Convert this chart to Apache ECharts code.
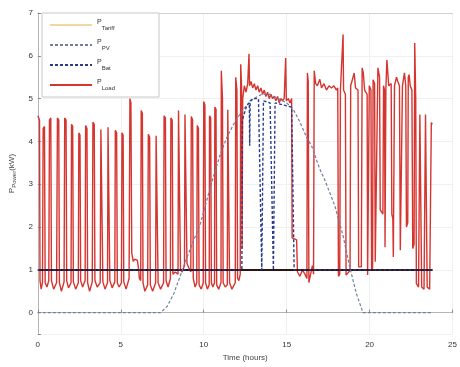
<!DOCTYPE html>
<html>
<head>
<meta charset="utf-8">
<script src="https://cdn.jsdelivr.net/npm/echarts@6/dist/echarts.min.js"></script>
<style>html,body{margin:0;padding:0;background:#fff}#c{width:460px;height:367px}</style>
</head>
<body>
<div id="c"></div>
<script>
// ---- data (hours, kW) ----
const xTicks = [0, 5, 10, 15, 20, 25];
const yTicks = [0, 1, 2, 3, 4, 5, 6, 7];
const seriesNames = ['P_Tariff', 'P_PV', 'P_Bat', 'P_Load'];

const loadNight = [
[0,4.6],[0.1,4.5],[0.13,0.75],[0.2,0.55],[0.28,0.7],
[0.32,4.3],[0.4,4.35],[0.44,0.7],[0.55,0.6],[0.66,0.75],
[0.7,4.5],[0.78,4.55],[0.82,0.75],[0.95,0.55],[1.13,0.7],
[1.18,4.55],[1.26,4.5],[1.3,0.7],[1.42,0.5],[1.58,0.72],
[1.62,4.55],[1.7,4.5],[1.74,0.75],[1.85,0.58],[2.0,0.7],
[2.03,4.4],[2.1,4.35],[2.14,0.72],[2.28,0.55],[2.44,0.7],
[2.47,4.2],[2.54,4.15],[2.58,0.75],[2.7,0.6],[2.85,0.75],
[2.88,4.37],[2.96,4.3],[3.0,0.7],[3.12,0.5],[3.28,0.72],
[3.32,4.45],[3.4,4.4],[3.44,0.75],[3.58,0.6],[3.76,0.7],
[3.8,4.28],[3.88,4.25],[3.92,0.72],[4.05,0.55],[4.2,0.7],
[4.23,4.33],[4.3,4.3],[4.34,0.75],[4.48,0.58],[4.64,0.72],
[4.67,4.26],[4.75,4.2],[4.79,0.7],[4.9,0.6],[5.04,0.7],
[5.07,4.2],[5.14,4.15],[5.18,0.72],[5.32,0.55],[5.5,0.8],
[5.55,5.0],[5.61,4.9],[5.66,1.4],[5.75,1.2],[5.85,1.25],[6.0,1.22],[6.08,1.0],[6.12,0.8],[6.2,0.75]
];
const loadMorning = [
[6.23,4.72],[6.3,4.65],[6.34,0.7],[6.45,0.5],[6.62,0.65],
[6.66,4.17],[6.74,4.1],[6.78,0.65],[6.92,0.5],[7.1,0.7],
[7.13,4.13],[7.21,4.1],[7.25,0.7],[7.4,0.55],[7.58,0.7],
[7.61,4.6],[7.69,4.55],[7.73,0.75],[7.85,0.6],[7.99,0.8],
[8.02,4.55],[8.1,4.5],[8.14,0.9],[8.28,0.95],[8.45,0.9],
[8.48,4.72],[8.56,4.68],[8.6,1.0],[8.7,0.95],[8.84,1.1],
[8.87,4.63],[8.95,4.6],[8.99,1.15],[9.1,1.05],[9.22,0.95],
[9.25,4.58],[9.33,4.5],[9.37,0.8],[9.48,0.6],[9.58,0.7],
[9.61,4.37],[9.68,4.3],[9.72,0.65],[9.85,0.55],[9.97,0.7],
[10.0,4.93],[10.07,4.85],[10.11,0.7],[10.22,0.55],[10.33,0.65],
[10.35,4.6],[10.42,4.55],[10.46,0.7],[10.55,0.6],[10.65,0.7],
[10.67,4.8],[10.74,4.75],[10.78,0.65],[10.9,0.55],[11.04,0.7],
[11.06,5.65],[11.13,5.0],[11.17,0.7],[11.3,0.6],[11.42,0.65],
[11.45,4.74],[11.52,4.7],[11.56,0.7],[11.7,0.55],[11.9,0.7],
[11.93,5.5],[12.0,5.2],[12.04,0.8],[12.12,0.75],[12.2,0.9],
[12.23,5.8],[12.28,5.3],[12.31,1.5],[12.35,5.0]
];
const loadMidday = [
[12.45,5.3],[12.55,5.15],[12.65,5.35],[12.73,6.05],[12.76,5.3],[12.85,5.4],[12.95,5.25],[13.05,5.35],
[13.15,5.2],[13.25,5.3],[13.35,5.15],[13.45,5.25],[13.55,5.1],[13.65,5.2],[13.75,5.05],[13.85,5.15],
[13.95,5.0],[14.05,5.1],[14.15,5.0],[14.25,5.05],[14.35,4.95],[14.45,5.05],[14.55,4.9],[14.65,5.0],
[14.75,4.95],[14.85,5.0],[14.94,5.95],[14.98,4.95],[15.1,5.0],[15.2,4.9],[15.3,5.0],
[15.33,1.75],[15.6,1.7],[15.65,0.95],[15.8,0.85],[15.95,1.0],[16.1,0.9],[16.22,0.8],
[16.25,5.6],[16.3,5.4],[16.34,0.7],[16.45,0.7],[16.55,1.1],[16.62,0.9],[16.66,5.65],[16.75,5.35],
[16.85,5.3],[17.0,5.45],[17.1,5.25],[17.25,5.35],[17.4,5.2],[17.55,5.3],[17.7,5.25],[17.85,5.3],[18.0,5.2],[18.08,5.25]
];
const loadEvening = [
[18.12,0.85],[18.2,0.9],[18.24,5.2],[18.36,5.2],[18.4,6.5],[18.43,5.2],[18.54,5.1],[18.58,0.88],[18.75,0.95],
[18.82,1.0],[18.86,5.3],[19.07,5.6],[19.15,5.25],[19.3,5.2],[19.34,1.07],[19.5,1.07],[19.55,5.72],[19.62,5.6],
[19.7,5.2],[19.85,5.1],[19.88,0.88],[19.95,0.9],[19.98,5.3],[20.08,5.2],[20.12,1.0],[20.18,1.05],[20.21,5.44],
[20.3,5.35],[20.34,1.19],[20.45,1.19],[20.5,5.72],[20.6,5.5],[20.64,2.4],[20.8,2.3],[20.84,5.3],[20.9,5.2],
[20.93,1.53],[20.98,5.2],[21.04,5.9],[21.1,5.6],[21.15,5.3],[21.3,5.35],[21.34,2.3],[21.4,2.2],[21.43,1.3],
[21.5,5.3],[21.62,5.5],[21.7,5.4],[21.8,5.3],[21.85,1.46],[21.93,1.5],[21.98,5.3],[22.1,5.6],[22.18,5.3],
[22.22,2.0],[22.3,2.1],[22.33,5.5],[22.38,5.56],[22.45,5.3],[22.55,5.2],[22.6,1.5],[22.68,1.6],
[22.72,6.3],[22.78,5.0],[22.82,0.68],[22.95,0.6],[23.03,4.63],[23.1,4.6],[23.14,0.6],[23.28,0.55],
[23.37,4.63],[23.43,4.6],[23.47,0.6],[23.62,0.55],[23.72,4.44],[23.78,4.4]
];
const pvData = [
[0,0],[7.4,0],[7.8,0.15],[8.2,0.45],[8.5,0.77],[8.9,1.2],[9.3,1.6],[9.8,2.08],[10.2,2.65],[10.6,3.2],
[11.0,3.7],[11.4,4.1],[11.8,4.4],[12.2,4.65],[12.6,4.85],[13.0,5.0],[13.5,5.1],[14.0,5.1],[14.5,5.0],
[15.0,4.9],[15.4,4.75],[15.8,4.45],[16.2,4.1],[16.5,3.9],[17.0,3.35],[17.3,3.1],[17.9,2.5],[18.4,1.8],
[18.8,1.07],[19.2,0.45],[19.6,0],[23.8,0]
];
const batData = [
[0,1],[12.3,1],[12.33,4.5],[12.6,4.85],[12.75,4.9],[12.77,3.9],[12.8,4.95],[13.0,5.0],[13.3,5.0],
[13.5,1.0],[13.6,4.95],[14.0,4.9],[14.2,1.0],[14.3,4.9],[14.8,4.85],[15.3,4.8],[15.45,1.0],[23.8,1.0]
];
const limitData = [[0,1],[23.8,1]];
const tariffData = [];

const loadData = loadNight.concat(loadMorning, loadMidday, loadEvening);

const chart = echarts.init(document.getElementById('c'));
const FONT = 'Liberation Sans';
const fmtName = n => { const p = n.split('_'); return '{p|' + p[0] + '}{s|' + p[1] + '}'; };

chart.setOption({
  animation: false,
  backgroundColor: '#fff',
  textStyle: { fontFamily: FONT },
  grid: { left: 33, right: 5, top: 13, bottom: 29 },
  legend: {
    data: seriesNames,
    orient: 'vertical',
    left: 42, top: 13,
    padding: [6, 44, 6, 7],
    itemWidth: 42, itemHeight: 12, itemGap: 8,
    itemStyle: { opacity: 0 },
    backgroundColor: '#fff',
    borderColor: '#c8c8c8', borderWidth: 1,
    formatter: fmtName,
    textStyle: {
      color: '#333', fontFamily: FONT,
      rich: {
        p: { fontSize: 7, color: '#333', verticalAlign: 'top', lineHeight: 12 },
        s: { fontSize: 6, color: '#333', verticalAlign: 'bottom', lineHeight: 12, padding: [6, 0, 0, 0] }
      }
    }
  },
  xAxis: [{
    type: 'value', min: 0, max: 25, interval: 5,
    name: 'Time (hours)', nameLocation: 'middle', nameGap: 19,
    nameTextStyle: { fontSize: 8, color: '#444' },
    axisLine: { lineStyle: { color: '#b5b5b5' } },
    axisTick: { inside: true, length: 3, lineStyle: { color: '#888' } },
    axisLabel: { fontSize: 8, color: '#333', margin: 7, formatter: v => xTicks.includes(v) ? String(v) : '' },
    splitLine: { show: true, lineStyle: { color: '#efefef' } }
  }, {
    type: 'value', min: 0, max: 25, position: 'top',
    axisLine: { show: true, lineStyle: { color: '#d0d0d0' } },
    axisTick: { show: false }, axisLabel: { show: false }, splitLine: { show: false }
  }],
  yAxis: {
    type: 'value', min: -0.5, max: 7, minInterval: 1, maxInterval: 1, splitNumber: 8,
    name: 'P{s|Power}(kW)', nameLocation: 'middle', nameGap: 9,
    nameTextStyle: { fontSize: 8, color: '#444', rich: { s: { fontSize: 6, color: '#444', padding: [5, 0, 0, 0] } } },
    axisLine: { show: true, lineStyle: { color: '#b5b5b5' } },
    axisTick: { inside: true, length: 3, lineStyle: { color: '#888' } },
    axisLabel: { fontSize: 8, color: '#333', margin: 5, formatter: v => yTicks.includes(v) ? String(v) : '' },
    splitLine: { show: true, lineStyle: { color: '#f0f0f0' } }
  },
  series: [
    { name: 'P_Load', type: 'line', data: loadData, symbol: 'none', z: 2,
      lineStyle: { color: '#d6342f', width: 1.4 }, itemStyle: { color: '#d6342f' } },
    { name: 'Limit', type: 'line', data: limitData, symbol: 'none', z: 3,
      lineStyle: { color: '#2a1414', width: 2 }, itemStyle: { color: '#2a1414' } },
    { name: 'P_PV', type: 'line', data: pvData, symbol: 'none', z: 4,
      lineStyle: { color: '#6f7ea3', width: 1.2, type: [3, 2] }, itemStyle: { color: '#6f7ea3' } },
    { name: 'P_Bat', type: 'line', data: batData, symbol: 'none', z: 5,
      lineStyle: { color: '#2c3a8e', width: 1.4, type: [3, 2] }, itemStyle: { color: '#2c3a8e' } },
    { name: 'P_Tariff', type: 'line', data: tariffData, symbol: 'none', z: 1,
      lineStyle: { color: '#f0d8a0', width: 1.5 }, itemStyle: { color: '#f0d8a0' } }
  ]
});
</script>
</body>
</html>
